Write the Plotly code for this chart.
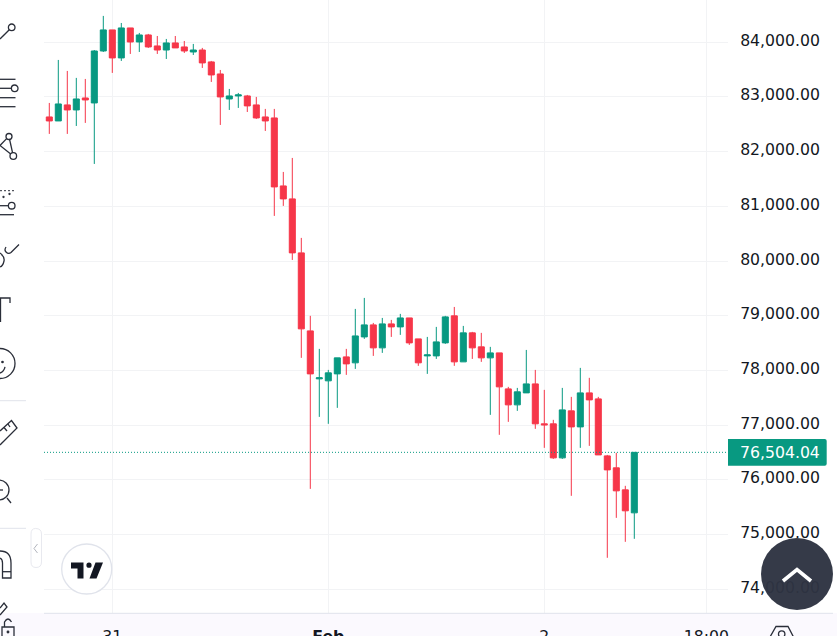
import pandas as pd
import plotly.graph_objects as go

# velas de 1 hora, BTC/USD
first_bar = "2026-01-30 17:00"

opens = [82635, 82562, 82855, 82763, 82982, 82891, 83841, 84226, 83714, 84262, 84006,
         84134, 83933, 83859, 83988, 83915, 83823, 83859, 83641, 83421, 82964, 83019,
         83019, 82855, 82635, 82617, 81374, 81137, 80150, 78724, 77847, 77811, 77938,
         78249, 78140, 78614, 78834, 78414, 78852, 78797, 78961, 78578, 78267, 78267,
         78505, 78999, 78158, 78688, 78432, 78231, 78322, 77664, 77372, 77591, 77755,
         77025, 77025, 76403, 77262, 76969, 77591, 77481, 76439, 76221, 75818, 75398]
closes = [82562, 82873, 82763, 82964, 82946, 83841, 84226, 83714, 84262, 84006, 84134,
          83915, 83859, 83988, 83897, 83841, 83859, 83623, 83403, 83001, 83019, 83038,
          82837, 82617, 82562, 81356, 81137, 80150, 78761, 77938, 77866, 77957, 78231,
          78121, 78632, 78834, 78414, 78852, 78797, 78961, 78505, 78140, 78285, 78523,
          78980, 78158, 78688, 78414, 78231, 78322, 77701, 77372, 77610, 77755, 77025,
          77007, 76403, 77280, 76969, 77591, 77463, 76457, 76183, 75800, 75435, 76504.04]
highs = [82891, 83677, 83476, 83349, 83330, 83859, 84482, 84226, 84353, 84262, 84171,
         84153, 84115, 84061, 84115, 84024, 83970, 83897, 83659, 83494, 83147, 83074,
         83038, 83001, 82782, 82782, 81630, 81886, 80424, 78999, 78395, 78011, 78231,
         78395, 79126, 79327, 78870, 78961, 78925, 79035, 78961, 78578, 78614, 78797,
         78999, 79162, 78815, 78706, 78688, 78432, 78322, 77701, 77682, 78376, 78011,
         77646, 77098, 77682, 77518, 78048, 77866, 77518, 76457, 76495, 75892, 76504.04]
lows = [82325, 82562, 82325, 82470, 82526, 81776, 83823, 83440, 83659, 83787, 83823,
        83897, 83787, 83695, 83897, 83805, 83768, 83531, 83275, 82489, 82763, 82800,
        82726, 82599, 82379, 80826, 81009, 80021, 78231, 75836, 77152, 77025, 77317,
        77920, 78029, 78578, 78267, 78322, 78614, 78651, 78468, 78085, 77938, 78212,
        78487, 78085, 78158, 78212, 78158, 77189, 76824, 77061, 77262, 77591, 76933,
        76586, 76384, 76384, 75709, 76586, 76622, 76457, 74576, 75306, 74868, 74923]

last_price = 76504.04
price_ticks = [74000, 75000, 76000, 77000, 78000, 79000, 80000, 81000, 82000, 83000, 84000]
time_ticks = ["2026-01-31 00:00", "2026-02-01 00:00", "2026-02-02 00:00", "2026-02-02 18:00"]
time_labels = ["31", "<b>Feb</b>", "2", "18:00"]

GREEN = "#089981"
RED = "#f63649"
INK = "#131722"
ICON = "#2a2e39"
GRID = "#f2f3f5"
W, H = 837, 636

times = pd.date_range(first_bar, periods=len(opens), freq="h")
x_start = pd.Timestamp(first_bar) - pd.Timedelta(hours=0.589)
x_end = pd.Timestamp(first_bar) + pd.Timedelta(hours=75.41)


def fx(p):
    return p / W


def fy(p):
    return 1 - p / H


def path_px(text):
    # "M x,y L x,y" en pixeles de pantalla a fracciones del papel
    out = []
    for tok in text.split():
        cmd = tok[0] if tok[0].isalpha() else ""
        nums = tok[len(cmd):]
        if nums:
            a, b = nums.split(",")
            out.append(f"{cmd}{fx(float(a)):.5f},{fy(float(b)):.5f}")
        else:
            out.append(cmd)
    return " ".join(out)


def icon(text, color=ICON, width=1.3, fill=None):
    d = dict(type="path", xref="paper", yref="paper", path=path_px(text), line=dict(color=color, width=width), layer="above")
    if fill:
        d["fillcolor"] = fill
    return d


def ring(cx, cy, r, color=ICON, width=1.3, fill=None):
    return dict(type="circle", xref="paper", yref="paper", x0=fx(cx - r), x1=fx(cx + r), y0=fy(cy + r), y1=fy(cy - r),
                line=dict(color=color, width=width), fillcolor=fill, layer="above")


fig = go.Figure(go.Candlestick(
    x=times, open=opens, high=highs, low=lows, close=closes,
    increasing=dict(line=dict(color=GREEN, width=1), fillcolor=GREEN),
    decreasing=dict(line=dict(color=RED, width=1), fillcolor=RED),
    whiskerwidth=0, showlegend=False,
))

shapes = [
    # fondo inferior y eje
    dict(type="rect", xref="paper", yref="paper", x0=0, x1=1, y0=0, y1=fy(613), fillcolor="#fbf9fe", line_width=0, layer="below"),
    icon("M44,613.3 L833,613.3", color="#e0e3eb", width=1),
    # linea del ultimo precio
    dict(type="line", xref="paper", yref="y", x0=fx(44), x1=fx(728), y0=last_price, y1=last_price,
         line=dict(color=GREEN, width=1, dash="1px,2px"), layer="above"),
    # barra de herramientas izquierda
    icon("M0,39 L9.3,29.7"), ring(11.7, 27.3, 3.3),
    icon("M0,79.3 L15.5,79.3"), icon("M0,88.3 L11.4,88.3"), ring(14.7, 88.3, 3.3),
    icon("M0,97.7 L15.5,97.7"), icon("M0,106.7 L15.5,106.7"),
    ring(9, 136.5, 3), ring(13.3, 156, 3.3),
    icon("M9.6,139.5 L12.6,152.8"), icon("M6.6,138.6 L0,145.5 L10.7,154"),
    dict(type="line", xref="paper", yref="paper", x0=0, x1=fx(14), y0=fy(190.7), y1=fy(190.7),
         line=dict(color=ICON, width=1, dash="2px,2px"), layer="above"),
    ring(3.5, 197, 0.5), ring(9.5, 194, 0.5),
    icon("M0,205.7 L8.4,205.7"), ring(11.7, 205.7, 3.3), icon("M0,214.7 L14,214.7"),
    icon("M19,244.5 L11,252.5 Q8.5,254.5 6,252 Q4,250 6,247"), icon("M0,253 Q5,257 4,261 Q3,266 0,267"),
    icon("M0.5,322 L0.5,298 L10,298 L10,303"),
    ring(0, 363.5, 15), ring(2.5, 362, 0.7, fill=ICON), icon("M0,373 Q4,372 5,367"),
    icon("M0,400.7 L26,400.7", color="#e0e3eb", width=1),
    icon("M0,431 L11.5,420.5 L17,428 L0,445"), icon("M4,427.5 L7,431"), icon("M8,424 L10,427"),
    ring(-1, 490, 10), icon("M0,490 L3,490"), icon("M7,498 L11,503"),
    icon("M0,528.3 L26,528.3", color="#e0e3eb", width=1),
    icon("M0,551 Q11,551 11,563 L11,578 L2.5,578 L2.5,563 Q2.5,559 0,558"), icon("M2.5,571.7 L11,571.7"),
    icon("M0,608 L4,603 L7,607 L0,615"), icon("M2,627 L14,627 L14,640 L2,640 Z"),
    icon("M4.5,627 L4.5,622 Q8,616 11.5,622"), ring(8, 632, 0.8, fill=ICON),
    # boton de colapsar
    icon("M31,534 Q31,528.5 35.5,528.5 Q41.5,528.5 41.5,534 L41.5,562 Q41.5,567.5 36,567.5 Q31,567.5 31,562 Z", color="#e8e9ef", width=1, fill="#ffffff"),
    icon("M37.5,544 L34,548.5 L37.5,553", color="#b2b5be", width=1),
    # logo
    ring(86.7, 569, 25, color="#e0e3eb", width=1.3, fill="#ffffff"),
    icon("M71,562.5 L83.5,562.5 L83.5,578.5 L77.5,578.5 L77.5,568.5 L71,568.5 Z", color=INK, width=0, fill=INK),
    ring(89, 565.2, 2.6, color=INK, width=0, fill=INK),
    icon("M95.5,562.5 L103,562.5 L96.5,578.5 L89.5,578.5 Z", color=INK, width=0, fill=INK),
    # etiqueta de precio
    icon("M728,439 L824.7,439 Q826.7,439 826.7,441 L826.7,463.7 Q826.7,465.7 824.7,465.7 L728,465.7 Z", color=GREEN, width=0, fill=GREEN),
    # boton flotante
    dict(type="circle", xref="paper", yref="paper", x0=fx(761), x1=fx(833), y0=fy(610), y1=fy(538),
         fillcolor="#2e3442", line_width=0, opacity=0.97, layer="above"),
    icon("M783,581 L797,569.5 L811,581", color="#ffffff", width=3.6),
    # ajustes abajo
    icon("M770,637 L776,626.5 L788,626.5 L793.5,637", color=ICON, width=1.3), ring(781.7, 634, 3.2),
]

annotations = [
    dict(xref="paper", yref="paper", x=fx(780), y=fy(452.3), xanchor="center", yanchor="middle",
         text=f"{last_price:,.2f}", showarrow=False,
         font=dict(family="DejaVu Sans", size=15.7, color="#ffffff")),
]

fig.update_layout(
    width=W, height=H, margin=dict(l=0, r=0, t=0, b=0),
    paper_bgcolor="#ffffff", plot_bgcolor="#ffffff",
    boxgap=0.33, boxgroupgap=0, shapes=shapes, annotations=annotations,
    font=dict(family="DejaVu Sans", size=15.7, color=INK),
    xaxis=dict(domain=[fx(44), fx(728)], range=[x_start, x_end], rangeslider_visible=False, automargin=False,
               tickmode="array", tickvals=time_ticks, ticktext=time_labels, tickangle=0,
               showgrid=True, gridcolor=GRID, gridwidth=1, zeroline=False, showline=False,
               ticks="outside", ticklen=9, tickcolor="rgba(0,0,0,0)"),
    yaxis=dict(domain=[fy(613), 1], range=[73567, 84773], side="right", tickmode="array", automargin=False,
               tickvals=price_ticks, tickformat=",.2f", ticklabelshift=-2,
               showgrid=True, gridcolor=GRID, gridwidth=1, zeroline=False, showline=False,
               ticks="outside", ticklen=8, tickcolor="rgba(0,0,0,0)"),
)

fig.write_html("out.html", config={"displayModeBar": False}, post_script="document.body.style.margin='0';")
